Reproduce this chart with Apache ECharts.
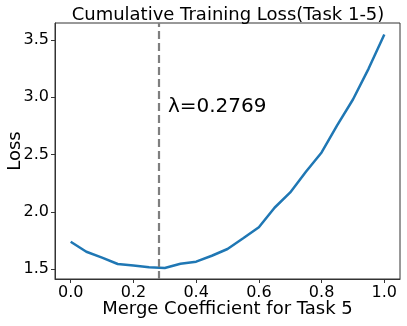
<!DOCTYPE html>
<html>
<head>
<meta charset="utf-8">
<script src="https://cdn.jsdelivr.net/npm/echarts@6/dist/echarts.min.js"></script>
<style>
  html, body { margin: 0; padding: 0; background: #fff; }
  #main { width: 407px; height: 326px; }
</style>
</head>
<body>
<div id="main"></div>
<script>
// merge coefficient vs cumulative loss
const coeffs = [0, 0.05, 0.1, 0.15, 0.2, 0.25, 0.3, 0.35, 0.4, 0.45, 0.5,
                0.55, 0.6, 0.65, 0.7, 0.75, 0.8, 0.85, 0.9, 0.95, 1.0];
const losses = [1.738, 1.651, 1.600, 1.544, 1.530, 1.515, 1.509, 1.546, 1.564, 1.616, 1.675,
                1.768, 1.864, 2.035, 2.169, 2.349, 2.518, 2.757, 2.980, 3.250, 3.548];
const bestLambda = 0.2769;
const xTicks = [0, 0.2, 0.4, 0.6, 0.8, 1.0];
const yTicks = [1.5, 2.0, 2.5, 3.0, 3.5];

const font = 'DejaVu Sans';
const chart = echarts.init(document.getElementById('main'), null, { renderer: 'canvas' });

chart.setOption({
  animation: false,
  title: {
    text: 'Cumulative Training Loss(Task 1-5)',
    left: 223, top: 1, textAlign: 'center',
    textStyle: { fontFamily: font, fontSize: 18, fontWeight: 'normal', color: '#000' }
  },
  grid: {
    left: 55, right: 7, top: 23, bottom: 47,
    containLabel: false, outerBoundsMode: 'none',
    show: true, borderColor: '#333', borderWidth: 1, backgroundColor: 'transparent'
  },
  xAxis: {
    type: 'value', min: -0.05, max: 1.05,
    name: 'Merge Coefficient for Task 5', nameLocation: 'middle', nameGap: 21,
    nameMoveOverlap: false,
    nameTextStyle: { fontFamily: font, fontSize: 18, color: '#000' },
    axisLine: { show: true, onZero: false, lineStyle: { color: '#333' } },
    splitLine: { show: false },
    axisTick: { show: true, length: 4, lineStyle: { color: '#333' }, customValues: xTicks },
    axisLabel: {
      fontFamily: font, fontSize: 16, color: '#000', margin: 6,
      customValues: xTicks, formatter: v => v.toFixed(1)
    }
  },
  yAxis: {
    type: 'value', min: 1.413, max: 3.648,
    name: 'Loss', nameLocation: 'middle', nameGap: 31,
    nameMoveOverlap: false,
    nameTextStyle: { fontFamily: font, fontSize: 18, color: '#000' },
    axisLine: { show: true, onZero: false, lineStyle: { color: '#333' } },
    splitLine: { show: false },
    axisTick: { show: true, length: 4, lineStyle: { color: '#333' }, customValues: yTicks },
    axisLabel: {
      fontFamily: font, fontSize: 16, color: '#000', margin: 6,
      customValues: yTicks, formatter: v => v.toFixed(1)
    }
  },
  series: [{
    type: 'line',
    data: coeffs.map((c, i) => [c, losses[i]]),
    showSymbol: false,
    lineStyle: { color: '#1f77b4', width: 2.5 },
    markLine: {
      silent: true, symbol: 'none',
      label: { show: false },
      lineStyle: { color: '#7f7f7f', type: [8, 4], width: 2.2 },
      data: [{ xAxis: bestLambda }]
    },
    markPoint: {
      silent: true, symbol: 'circle', symbolSize: 0,
      label: {
        show: true, position: 'right', distance: 0,
        formatter: '\u03bb=' + bestLambda,
        fontFamily: font, fontSize: 20, color: '#000'
      },
      data: [{ coord: [0.31, 2.92] }]
    }
  }]
});
</script>
</body>
</html>
